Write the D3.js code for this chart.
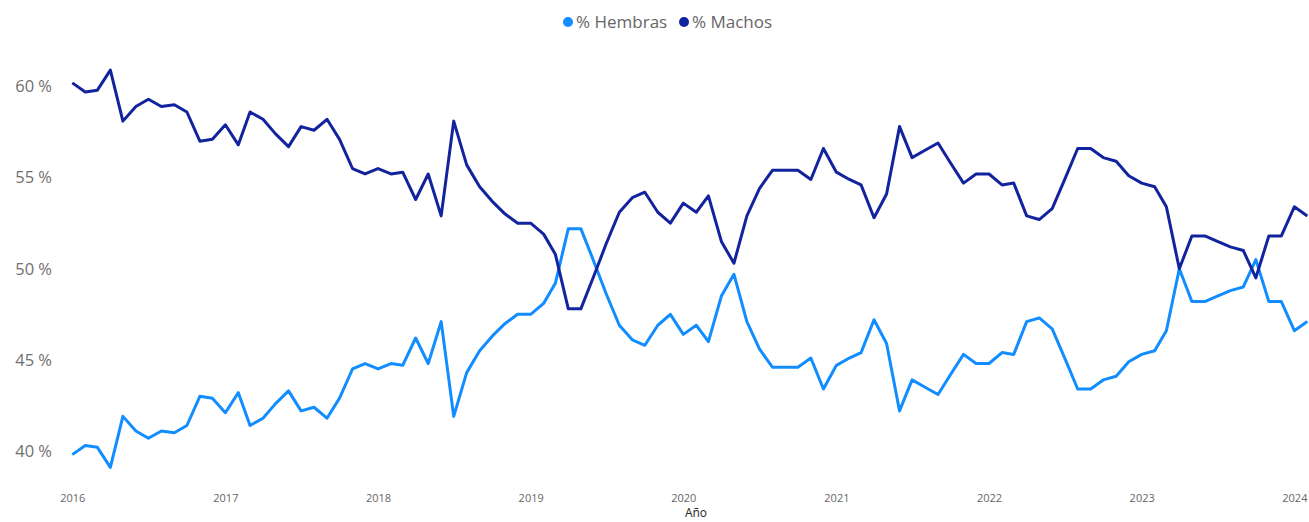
<!DOCTYPE html>
<html>
<head>
<meta charset="utf-8">
<script src="https://cdn.jsdelivr.net/npm/d3@7"></script>
<style>
    body { margin: 0; background: #fff; overflow: hidden; }
    svg { display: block; font-family: "Segoe UI", "Open Sans", sans-serif; }
</style>
</head>
<body>
<script>
// monthly values, first month and count
var startMonth = '2016-01';
var seriesNames = ['% Hembras', '% Machos'];
var seriesColors = ['#118DFF', '#12239E'];

var machos = [
    60.2, 59.7, 59.8, 60.9, 58.1, 58.9, 59.3, 58.9, 59.0, 58.6, 57.0, 57.1,
    57.9, 56.8, 58.6, 58.2, 57.4, 56.7, 57.8, 57.6, 58.2, 57.1, 55.5, 55.2,
    55.5, 55.2, 55.3, 53.8, 55.2, 52.9, 58.1, 55.7, 54.5, 53.7, 53.0, 52.5,
    52.5, 51.9, 50.8, 47.8, 47.8, 49.6, 51.4, 53.1, 53.9, 54.2, 53.1, 52.5,
    53.6, 53.1, 54.0, 51.5, 50.3, 52.9, 54.4, 55.4, 55.4, 55.4, 54.9, 56.6,
    55.3, 54.9, 54.6, 52.8, 54.1, 57.8, 56.1, 56.5, 56.9, 55.8, 54.7, 55.2,
    55.2, 54.6, 54.7, 52.9, 52.7, 53.3, 54.9, 56.6, 56.6, 56.1, 55.9, 55.1,
    54.7, 54.5, 53.4, 50.0, 51.8, 51.8, 51.5, 51.2, 51.0, 49.5, 51.8, 51.8,
    53.4, 52.9
];

var hembras = [
    39.8, 40.3, 40.2, 39.1, 41.9, 41.1, 40.7, 41.1, 41.0, 41.4, 43.0, 42.9,
    42.1, 43.2, 41.4, 41.8, 42.6, 43.3, 42.2, 42.4, 41.8, 42.9, 44.5, 44.8,
    44.5, 44.8, 44.7, 46.2, 44.8, 47.1, 41.9, 44.3, 45.5, 46.3, 47.0, 47.5,
    47.5, 48.1, 49.2, 52.2, 52.2, 50.4, 48.6, 46.9, 46.1, 45.8, 46.9, 47.5,
    46.4, 46.9, 46.0, 48.5, 49.7, 47.1, 45.6, 44.6, 44.6, 44.6, 45.1, 43.4,
    44.7, 45.1, 45.4, 47.2, 45.9, 42.2, 43.9, 43.5, 43.1, 44.2, 45.3, 44.8,
    44.8, 45.4, 45.3, 47.1, 47.3, 46.7, 45.1, 43.4, 43.4, 43.9, 44.1, 44.9,
    45.3, 45.5, 46.6, 50.0, 48.2, 48.2, 48.5, 48.8, 49.0, 50.5, 48.2, 48.2,
    46.6, 47.1
];

var yTicks = [40, 45, 50, 55, 60];
var xTickYears = [2016, 2017, 2018, 2019, 2020, 2021, 2022, 2023, 2024];
var xTitle = 'Año';

var width = 1309, height = 522;

var parseMonth = d3.timeParse('%Y-%m');
var dates = machos.map(function (d, i) {
    return d3.timeMonth.offset(parseMonth(startMonth), i);
});

var svg = d3.select('body')
    .append('svg')
    .attr('width', width)
    .attr('height', height);

var xScale = d3.scaleTime()
    .domain([dates[0], dates[dates.length - 1]])
    .range([72.3, 1307.3]);

var yScale = d3.scaleLinear()
    .domain([40, 60])
    .range([451, 86.5]);

// y axis: labels only
var yAxis = d3.axisLeft(yScale)
    .tickValues(yTicks)
    .tickSize(0)
    .tickPadding(0)
    .tickFormat(function (d) { return d + ' %'; });

var gy = svg.append('g')
    .attr('transform', translation(52, 0))
    .call(yAxis);
gy.select('.domain').remove();
gy.selectAll('text')
    .attr('fill', '#707070')
    .style('font-size', '16.5px')
    .style('font-family', '"Segoe UI", "Open Sans", sans-serif');

// x axis: year labels only
var xAxis = d3.axisBottom(xScale)
    .tickValues(xTickYears.map(function (y) { return new Date(y, 0, 1); }))
    .tickSize(0)
    .tickPadding(0)
    .tickFormat(d3.timeFormat('%Y'));

var gx = svg.append('g')
    .attr('transform', translation(0, 494))
    .call(xAxis);
gx.select('.domain').remove();
gx.selectAll('text')
    .attr('fill', '#666')
    .style('font-size', '11px')
    .style('font-family', '"Segoe UI", "Open Sans", sans-serif');

svg.append('text')
    .attr('x', 696)
    .attr('y', 517)
    .attr('text-anchor', 'middle')
    .attr('fill', '#252423')
    .style('font-size', '12px')
    .text(xTitle);

// lines
var line = d3.line()
    .x(function (d, i) { return xScale(dates[i]); })
    .y(function (d) { return yScale(d); });

[hembras, machos].forEach(function (values, k) {
    svg.append('path')
        .datum(values)
        .attr('fill', 'none')
        .attr('stroke', seriesColors[k])
        .attr('stroke-width', 3)
        .attr('stroke-linejoin', 'round')
        .attr('d', line);
});

// legend
var legendX = [568, 684];
var legend = svg.append('g');
seriesNames.forEach(function (name, k) {
    legend.append('circle')
        .attr('cx', legendX[k])
        .attr('cy', 22)
        .attr('r', 5)
        .attr('fill', seriesColors[k]);
    legend.append('text')
        .attr('x', legendX[k] + 8)
        .attr('y', 22)
        .attr('dy', '0.35em')
        .attr('fill', '#666')
        .style('font-size', '17px')
        .text(name);
});

function translation(x, y) {
    return 'translate(' + x + ',' + y + ')';
}
</script>
</body>
</html>
